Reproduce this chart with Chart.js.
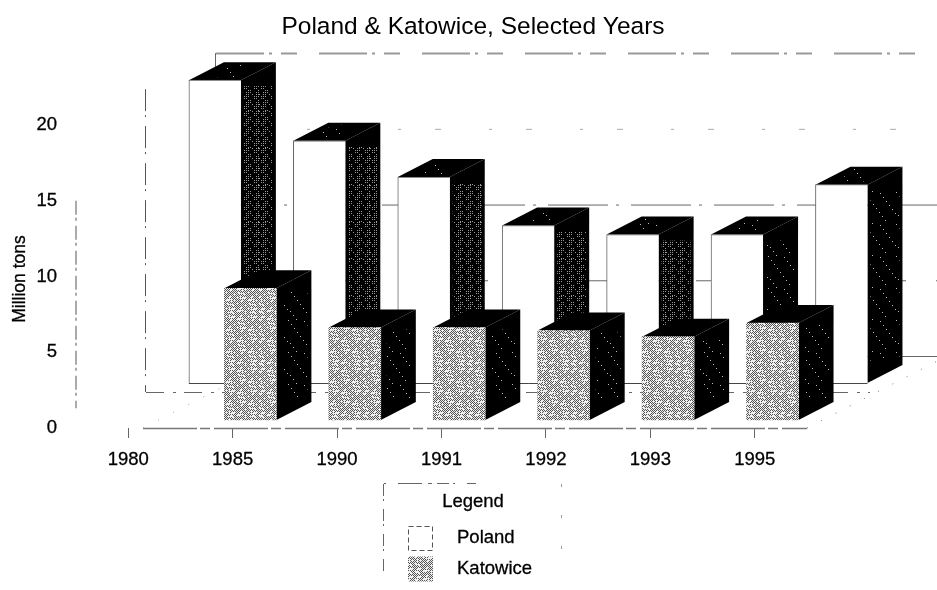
<!DOCTYPE html>
<html>
<head>
<meta charset="utf-8">
<title>Poland & Katowice, Selected Years</title>
<script src="https://cdn.jsdelivr.net/npm/chart.js@4/dist/chart.umd.min.js"></script>
<style>
    html, body { margin: 0; background: #fff; }
    canvas { display: block; }
</style>
</head>
<body>
<canvas id="steelChart" width="937" height="590"></canvas>
<script>
const years = ['1980', '1985', '1990', '1991', '1992', '1993', '1995'];
const polandValues = [20.0, 16.0, 13.6, 10.4, 9.8, 9.8, 13.1];
const katowiceValues = [8.7, 6.1, 6.1, 5.9, 5.5, 6.4];
const yTicks = [0, 5, 10, 15, 20];

const FONT = '"Liberation Sans", Arial, sans-serif';
const BAR_DX = 35, BAR_DY = -18;     //..depth of one bar
const WALL_DX = 140, WALL_DY = -72;  //..front plane to back wall

//..speckled fills, worked out per pixel so the texture stays the same every run
function makeTexture(size, paint) {
    const c = document.createElement('canvas');
    c.width = c.height = size;
    const g = c.getContext('2d');
    for (let y = 0; y < size; y++) {
        for (let x = 0; x < size; x++) {
            g.fillStyle = paint(x, y);
            g.fillRect(x, y, 1, 1);
        }
    }
    return c.getContext('2d').createPattern(c, 'repeat');
}
const greyFill = makeTexture(52, (x, y) =>
    (x + y) % 2 === 0 && (x * x * 3 + y * y * 5 + x * y) % 11 > 2 ? '#555' : '#eee');
const sideFill = makeTexture(37, (x, y) =>
    x % 2 === 0 && y % 2 === 0 && (x * x + y * y * 3 + x * y) % 5 < 2 ? '#999' : '#000');
const sparseFill = makeTexture(32, (x, y) =>
    (x * 11 + y * 7) % 61 === 0 ? '#bbb' : '#000');

function strokeLine(ctx, x1, y1, x2, y2, color, width, dash) {
    ctx.save();
    ctx.strokeStyle = color;
    ctx.lineWidth = width;
    ctx.setLineDash(dash || []);
    ctx.beginPath();
    ctx.moveTo(x1, y1);
    ctx.lineTo(x2, y2);
    ctx.stroke();
    ctx.restore();
}

function poly(ctx, pts, fill) {
    ctx.fillStyle = fill;
    ctx.beginPath();
    pts.forEach((p, i) => i ? ctx.lineTo(p[0], p[1]) : ctx.moveTo(p[0], p[1]));
    ctx.closePath();
    ctx.fill();
}

//..back wall, floor edges and the open frame of the 3D box
const framePlugin = {
    id: 'frame',
    beforeDatasetsDraw(chart) {
        const ctx = chart.ctx;
        const y = chart.scales.y;
        const area = chart.chartArea;
        const x0 = area.left, x1 = area.right;
        const floor = y.getPixelForValue(0);
        const top = y.getPixelForValue(20);

        const wallStyle = {
            0: ['#666', 1, []],
            5: ['#666', 1, [32, 44, 14, 30]],
            10: ['#666', 1, [60, 8, 3, 12]],
            15: ['#aaa', 1, [3, 34, 6, 48]],
            20: ['#999', 2, [48, 5, 3, 9, 16, 22]]
        };
        yTicks.forEach(v => {
            const py = y.getPixelForValue(v) + WALL_DY + 0.5;
            const s = wallStyle[v];
            strokeLine(ctx, x0 + WALL_DX, py, chart.width, py, s[0], s[1], s[2]);
        });

        //..left edges of the box, front, middle and back
        strokeLine(ctx, x0, y.getPixelForValue(15), x0, y.getPixelForValue(1.3), '#aaa', 2, [14, 3, 3, 5]);
        strokeLine(ctx, x0 + WALL_DX / 2 - 0.5, top + WALL_DY / 2, x0 + WALL_DX / 2 - 0.5, floor + WALL_DY / 2, '#555', 1, [22, 4, 2, 9]);
        strokeLine(ctx, x0 + WALL_DX - 0.5, top + WALL_DY, x0 + WALL_DX - 0.5, top + WALL_DY + 14, '#666', 1);

        //..floor
        strokeLine(ctx, x0 + WALL_DX / 2, floor + WALL_DY / 2 + 0.5, x1 + 63, floor + WALL_DY / 2 + 0.5, '#666', 1, [18, 9, 3, 8]);
        strokeLine(ctx, x0 + 67, floor + 0.5, x1, floor + 0.5, '#777', 1.5, [54, 3, 10, 4]);
        strokeLine(ctx, x0 + 67, floor, x0 + 67 + WALL_DX, floor + WALL_DY, '#999', 1, [1, 16]);
        strokeLine(ctx, x1, floor, x1 + WALL_DX, floor + WALL_DY, '#777', 1, [1, 15]);

        //..line under the back row of bars
        const yp = chart.scales.yPoland.getPixelForValue(0);
        const back = chart.getDatasetMeta(0).data;
        strokeLine(ctx, back[0].x - back[0].width / 2, yp + 0.5, back[back.length - 1].x + back[0].width / 2, yp + 0.5, '#444', 1);
    },
    //..top and side faces go down just before the front faces of each series
    beforeDatasetDraw(chart, args) {
        const ctx = chart.ctx;
        const isPoland = args.index === 0;
        args.meta.data.forEach((bar, i) => {
            const l = bar.x - bar.width / 2, r = bar.x + bar.width / 2;
            const t = bar.y, b = bar.base;
            poly(ctx, [[r, t], [r + BAR_DX, t + BAR_DY], [r + BAR_DX, b + BAR_DY], [r, b]], '#000');
            poly(ctx, [[l, t], [l + BAR_DX, t + BAR_DY], [r + BAR_DX, t + BAR_DY], [r, t]], '#000');
            if (isPoland) {
                //..speckle sits inside a black margin
                ctx.fillStyle = i < 5 ? sideFill : sparseFill;
                ctx.fillRect(r + 3, t + 6, BAR_DX - 6, b - t + BAR_DY - 10);
                ctx.fillStyle = sparseFill;
                ctx.beginPath();
                ctx.moveTo(l + 22, t - 3);
                ctx.lineTo(l + BAR_DX + 4, t + BAR_DY + 2);
                ctx.lineTo(r + 2, t + BAR_DY + 2);
                ctx.lineTo(r - 4, t - 3);
                ctx.closePath();
                ctx.fill();
            } else {
                ctx.fillStyle = sparseFill;
                ctx.fillRect(r + 6, t + 2, BAR_DX - 10, b - t + BAR_DY - 4);
            }
        });
    },
    //..hand drawn legend and axis name, both sit off where the library would centre them
    afterDraw(chart) {
        const ctx = chart.ctx;
        strokeLine(ctx, 383.5, 484, 383.5, 572, '#666', 1, [12, 3, 2, 8]);
        strokeLine(ctx, 384, 483.5, 476, 483.5, '#666', 1, [2, 12, 24, 6, 4, 5, 12, 4]);
        strokeLine(ctx, 561.5, 484, 561.5, 572, '#999', 1, [3, 28]);

        ctx.save();
        ctx.fillStyle = '#000';
        ctx.strokeStyle = '#000';
        ctx.lineWidth = 0.3;
        ctx.textBaseline = 'middle';
        ctx.font = '18.5px ' + FONT;
        ctx.textAlign = 'center';
        ctx.fillText('Legend', 473, 502);
        ctx.strokeText('Legend', 473, 502);
        ctx.textAlign = 'left';
        chart.data.datasets.forEach((ds, i) => {
            const ly = 526 + i * 30.5;
            ctx.fillText(ds.label, 457, ly + 12);
            ctx.strokeText(ds.label, 457, ly + 12);
            if (i === 0) {
                ctx.save();
                ctx.lineWidth = 1;
                ctx.strokeStyle = '#555';
                ctx.setLineDash([5, 3]);
                ctx.strokeRect(408.5, ly + 0.5, 24, 24);
                ctx.restore();
            } else {
                ctx.fillStyle = ds.backgroundColor;
                ctx.fillRect(408, ly, 25, 25);
                ctx.fillStyle = '#000';
            }
        });
        ctx.translate(20, 279);
        ctx.rotate(-Math.PI / 2);
        ctx.textAlign = 'center';
        ctx.font = '17.5px ' + FONT;
        ctx.fillText('Million tons', 0, 0);
        ctx.strokeText('Million tons', 0, 0);
        ctx.restore();
    }
};

Chart.defaults.font.family = FONT;
Chart.defaults.color = '#000';

new Chart(document.getElementById('steelChart'), {
    type: 'bar',
    plugins: [framePlugin],
    data: {
        labels: years,
        datasets: [{
            label: 'Poland',
            data: polandValues.map((v, i) => ({ x: i, y: v })),
            xAxisID: 'xPoland',
            yAxisID: 'yPoland',
            order: 2,
            grouped: false,
            barThickness: 52,
            clip: false,
            backgroundColor: '#fff',
            borderColor: '#666',
            borderWidth: { left: 1, top: 1 },
            borderSkipped: false
        }, {
            label: 'Katowice',
            data: katowiceValues.map((v, i) => ({ x: i, y: v })),
            xAxisID: 'xKatowice',
            yAxisID: 'yKatowice',
            order: 1,
            grouped: false,
            barThickness: 52,
            clip: false,
            backgroundColor: greyFill
        }]
    },
    options: {
        responsive: false,
        animation: false,
        events: [],
        layout: { padding: { left: 9, bottom: 122 } },
        plugins: {
            legend: { display: false },
            tooltip: { enabled: false },
            title: {
                display: true,
                text: 'Poland & Katowice, Selected Years',
                font: { size: 24.5, weight: 'normal' },
                padding: { top: 13, bottom: 7 }
            }
        },
        scales: {
            x: {
                type: 'category',
                offset: true,
                afterFit: s => { s.height = 40; },
                border: { display: false },
                grid: {
                    offset: false,
                    drawOnChartArea: false,
                    tickLength: 10,
                    tickColor: '#666'
                },
                ticks: { font: { size: 18.5 }, padding: 11, maxRotation: 0, textStrokeColor: '#000', textStrokeWidth: 0.3 }
            },
            y: {
                min: 0,
                max: 25,
                afterFit: s => { s.width = 67; },
                afterBuildTicks: s => { s.ticks = yTicks.map(v => ({ value: v })); },
                border: { display: false },
                grid: { display: false },
                ticks: { font: { size: 18.5 }, padding: 11, textStrokeColor: '#000', textStrokeWidth: 0.3 }
            },
            //..the two rows of bars sit on their own hidden axes, pushed back in depth
            xPoland: { type: 'linear', display: false, offset: false, min: -1.33, max: 5.67 },
            //..this one also holds the empty space right of the plot, so it stays on but blank
            yPoland: {
                type: 'linear',
                position: 'right',
                min: -2.97,
                max: 22.03,
                afterFit: s => { s.width = 130; },
                border: { display: false },
                grid: { display: false },
                ticks: { display: false }
            },
            xKatowice: { type: 'linear', display: false, offset: false, min: -1.67, max: 5.33 },
            yKatowice: { type: 'linear', display: false, min: -0.53, max: 24.47 }
        }
    }
});
</script>
</body>
</html>
